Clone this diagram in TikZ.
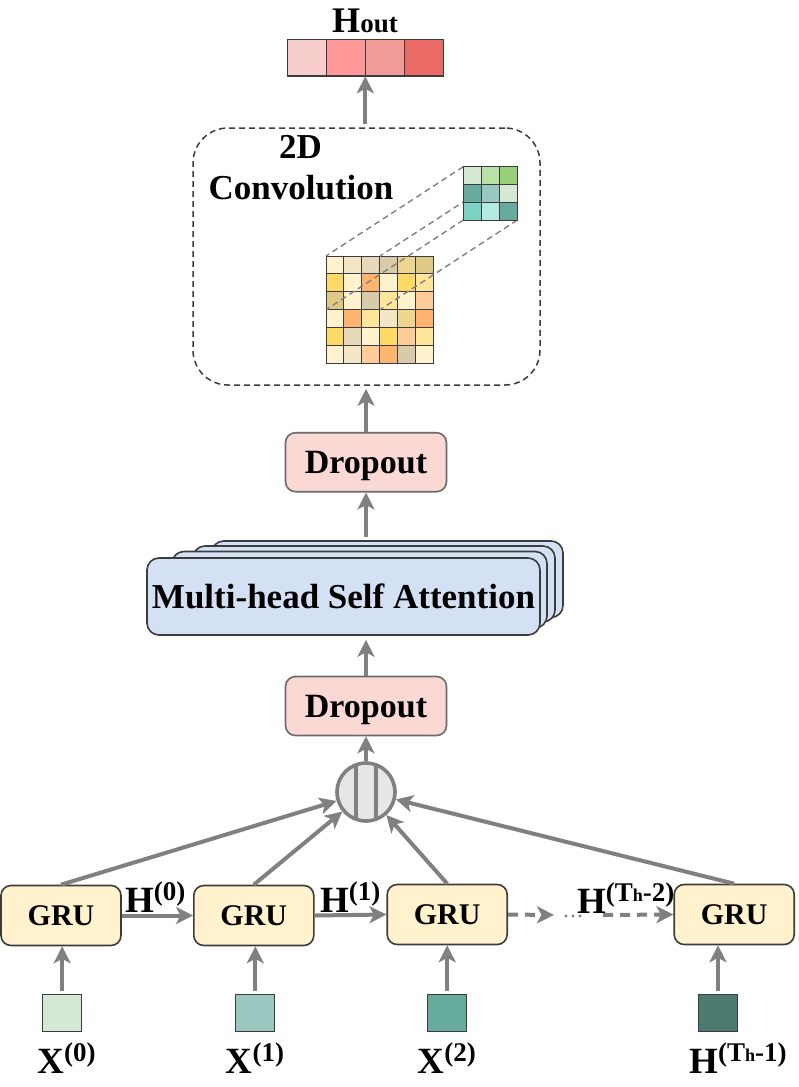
\documentclass[tikz,border=0pt]{standalone}
\usepackage{fontspec}
\setmainfont{Liberation Serif}
\usetikzlibrary{arrows.meta}
\definecolor{arrgray}{HTML}{808080}
\definecolor{edgedark}{HTML}{3C3C3C}
\definecolor{edgemid}{HTML}{6B6B6B}
\definecolor{grufill}{HTML}{FFF2CC}
\definecolor{dropfill}{HTML}{FAD9D5}
\definecolor{mhsafill}{HTML}{D4E1F5}
\definecolor{catfill}{HTML}{E6E6E6}
\definecolor{ya}{HTML}{FFF2CC}
\definecolor{yb}{HTML}{F5E7C6}
\definecolor{yc}{HTML}{E6D8B8}
\definecolor{yd}{HTML}{D9CBAA}
\definecolor{ye}{HTML}{EED68F}
\definecolor{yf}{HTML}{E0C986}
\definecolor{yg}{HTML}{FFD966}
\definecolor{yh}{HTML}{FFB570}
\definecolor{yi}{HTML}{FFE599}
\definecolor{yj}{HTML}{FFCC99}
\definecolor{ka}{HTML}{D5E8D4}
\definecolor{kb}{HTML}{B9E0A5}
\definecolor{kc}{HTML}{97D077}
\definecolor{kd}{HTML}{67AB9F}
\definecolor{ke}{HTML}{9AC7BF}
\definecolor{kf}{HTML}{7DD3C3}
\definecolor{kg}{HTML}{B3EBE1}
\definecolor{hdark}{HTML}{4A7A70}
\definecolor{ha}{HTML}{F8CECC}
\definecolor{hb}{HTML}{FF9999}
\definecolor{hc}{HTML}{F19C99}
\definecolor{hd}{HTML}{EA6B66}
\newcommand\mysup[1]{\raisebox{12pt}{\fontsize{27}{27}\selectfont #1}}
\newcommand\smallh{{\fontsize{18}{18}\selectfont h}}
\begin{document}
\begin{tikzpicture}[x=1pt,y=-1pt,
  arr/.style={draw=arrgray, line width=4pt, -{Stealth[length=17pt,width=17pt,inset=4.5pt]}},
  dasharr/.style={arr, dash pattern=on 10pt off 7pt},
  grubox/.style={draw=edgedark, fill=grufill, line width=1.6pt, rounded corners=10pt,
    minimum width=120pt, minimum height=60pt, inner sep=0pt,
    font=\fontsize{30}{34}\selectfont\bfseries},
  dropbox/.style={draw=edgemid, fill=dropfill, line width=1.6pt, rounded corners=10pt,
    minimum width=161pt, minimum height=59pt, inner sep=0pt, text depth=0pt,
    font=\fontsize{34}{38}\selectfont\bfseries},
  mhsaback/.style={draw=edgedark, fill=mhsafill, line width=1.6pt, rounded corners=12pt},
  mhsabox/.style={mhsaback, minimum width=393pt, minimum height=77pt, inner sep=0pt,
    font=\fontsize{35}{39}\selectfont\bfseries},
  insq/.style={draw=edgedark, line width=1pt, minimum width=39pt, minimum height=37pt, inner sep=0pt},
  houtcell/.style={draw=edgedark, line width=1.4pt, minimum width=39pt, minimum height=36.7pt, inner sep=0pt},
  lbl/.style={inner sep=0pt, font=\fontsize{37}{41}\selectfont\bfseries},
  convtxt/.style={inner sep=0pt, font=\fontsize{35}{39}\selectfont\bfseries},
  proj/.style={draw=arrgray, line width=1.4pt, dash pattern=on 6pt off 4pt},
  cellstyle/.style={draw=edgedark, line width=0.9pt}
]
\useasboundingbox (0,0) rectangle (799,1087);

% ---- Hout ----
\node[houtcell, fill=ha] (h1) at (306.8,57.7) {};
\node[houtcell, fill=hb] (h2) at (345.8,57.7) {};
\node[houtcell, fill=hc] (h3) at (384.8,57.7) {};
\node[houtcell, fill=hd] (h4) at (423.8,57.7) {};
\node[inner sep=0pt, minimum width=156pt, minimum height=36.7pt] (houtrow) at (365.3,57.7) {};
\node[lbl, anchor=base] (houtlbl) at (365,32) {\fontsize{36}{38}\selectfont H{\fontsize{27}{28}\selectfont out}};

% ---- Convolution box ----
\node[draw=edgedark, line width=1.5pt, dash pattern=on 6pt off 4pt, rounded corners=35pt,
      minimum width=347pt, minimum height=257pt, inner sep=0pt] (conv) at (366.5,256.5) {};
\node[convtxt, anchor=base] (conv2d) at (300.5,158) {2D};
\node[convtxt, anchor=base] (convword) at (301,199) {Convolution};

% grid 6x6
\foreach \rowlist [count=\r from 0] in {{ya,yb,yc,yd,ye,yf},{yg,ya,yh,ya,yg,yi},{yf,ya,yd,yi,ya,yj},{ya,yh,yi,yb,ye,yh},{yg,yc,ya,yg,yj,yi},{ya,yb,yj,yh,yd,ya}}{
  \foreach \cc [count=\c from 0] in \rowlist {
    \filldraw[cellstyle, fill=\cc] ({326+\c*17.9},{256+\r*17.9}) rectangle ++(17.9,17.9);
  }
}
% projection lines
\draw[proj] (463.3,166.7) -- (326,256);
\draw[proj] (517.3,166.7) -- (380,256);
\draw[proj] (463.3,220) -- (326,309.7);
\draw[proj] (517.3,220) -- (380,309.7);
% kernel 3x3
\foreach \rowlist [count=\r from 0] in {{ka,kb,kc},{kd,ke,ka},{kf,kg,kd}}{
  \foreach \cc [count=\c from 0] in \rowlist {
    \filldraw[cellstyle, fill=\cc] ({463.3+\c*18},{166.7+\r*17.8}) rectangle ++(18,17.8);
  }
}

% ---- Dropout / MHSA ----
\node[dropbox] (drop2) at (366,462.2) {Dropout};
\draw[mhsaback] (211.7,541) rectangle (563,617.5);
\draw[mhsaback] (193,546) rectangle (555,622);
\draw[mhsaback] (172,551.5) rectangle (547,628);
\node[mhsabox] (mhsa) at (343.5,596.5) {Multi-head Self Attention};
\coordinate (mhsatop) at (366,537);
\node[dropbox] (drop1) at (366,706) {Dropout};

% ---- concat ----
\node[circle, draw=arrgray, fill=catfill, line width=3.6pt, minimum size=58pt, inner sep=0pt] (cat) at (366,792) {};
\draw[arrgray, line width=3.6pt] ([shift={(-10,-27.5)}]cat.center) -- ([shift={(-10,27.5)}]cat.center);
\draw[arrgray, line width=3.6pt] ([shift={(10,-27.5)}]cat.center) -- ([shift={(10,27.5)}]cat.center);

% ---- GRUs ----
\node[grubox] (g1) at (61,915.5) {GRU};
\node[grubox] (g2) at (253.8,915.5) {GRU};
\node[grubox] (g3) at (447.2,914.5) {GRU};
\node[grubox] (g4) at (734.2,914.5) {GRU};

% ---- inputs ----
\node[insq, fill=ka] (x0) at (62.2,1012.5) {};
\node[insq, fill=ke] (x1) at (255.3,1012.5) {};
\node[insq, fill=kd] (x2) at (447.2,1012.5) {};
\node[insq, fill=hdark] (x3) at (718,1013) {};
\node[lbl, anchor=base] (x0l) at (66.4,1073) {X\mysup{(0)}};
\node[lbl, anchor=base] (x1l) at (255,1073) {X\mysup{(1)}};
\node[lbl, anchor=base] (x2l) at (446.7,1073) {X\mysup{(2)}};
\node[lbl, anchor=base] (x3l) at (738,1073) {H\mysup{(T\smallh-1)}};

% ---- arrows ----
\draw[arr] (houtrow.south |- conv.north) ++(0,-3) -- (houtrow.south);
\draw[arr] (drop2.north) -- ([yshift=-3pt]drop2.north |- conv.south);
\draw[arr] (mhsatop) -- (drop2.south);
\draw[arr] (drop1.north) -- ([yshift=-4pt]drop1.north |- mhsa.south);
\draw[arr] (cat.north) -- (drop1.south);

\draw[arr] (g1.north) -- (cat);
\draw[arr] (g2.north) -- (cat);
\draw[arr] (g3.north) -- (cat);
\draw[arr] (g4.north) -- (cat);

\draw[arr, shorten <=3pt] (x0.north) -- (x0.north |- g1.south);
\draw[arr, shorten <=3pt] (x1.north) -- (x1.north |- g2.south);
\draw[arr, shorten <=3pt] (x2.north) -- (x2.north |- g3.south);
\draw[arr, shorten <=3pt] (x3.north) -- (x3.north |- g4.south);

\draw[arr] (g1.east) -- (g2.west);
\draw[arr] (g2.east) -- (g3.west);
\node[lbl, anchor=base west] (h0l) at (125,912) {H\mysup{(0)}};
\node[lbl, anchor=base west] (h1l) at (320,912) {H\mysup{(1)}};

\coordinate (dashend) at (554,915);
\coordinate (dashstart) at (603,915);
\draw[dasharr] (g3.east) -- (dashend);
\fill[arrgray] (566,916) circle (1.6pt) (573,916) circle (1.6pt) (580,916) circle (1.6pt);
\draw[dasharr] (dashstart) -- (g4.west);
\node[lbl, anchor=base west] (h2l) at (577,913) {H\mysup{(T\smallh-2)}};
\end{tikzpicture}
\end{document}
